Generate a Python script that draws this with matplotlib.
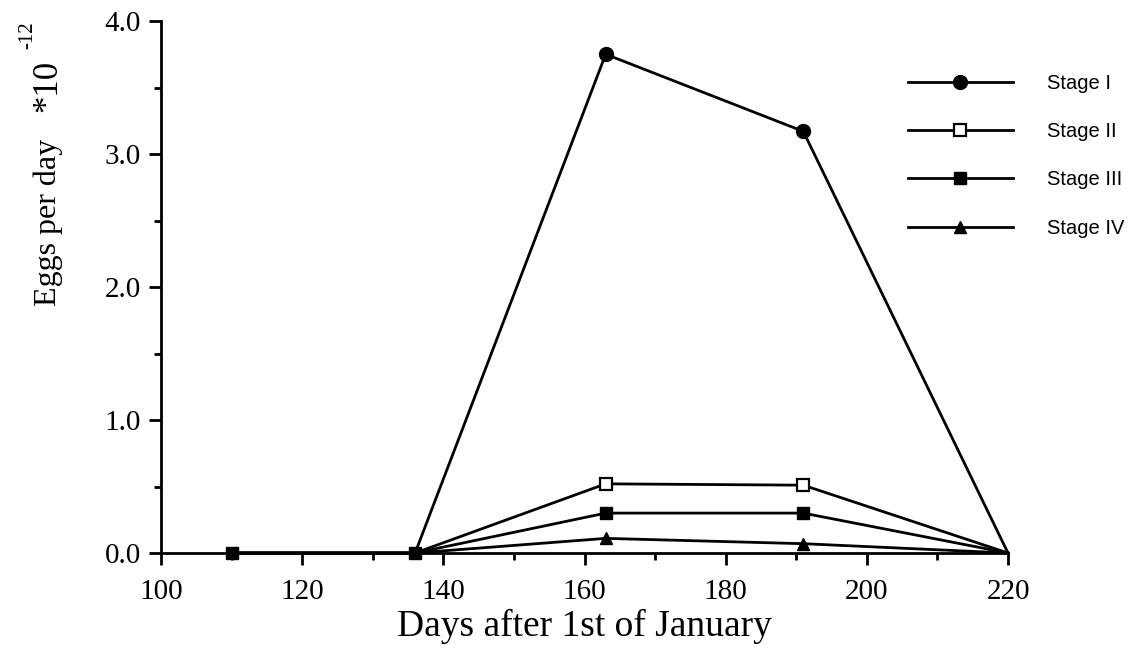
import matplotlib
matplotlib.use("Agg")
import matplotlib.pyplot as plt
from matplotlib.lines import Line2D
from matplotlib.ticker import MultipleLocator

# Sampling days (days after 1st of January)
days = [110, 136, 163, 191, 220]

# Egg production (x 10^12 eggs per day) by developmental stage
stage_i = [0.0, 0.0, 3.75, 3.17, 0.0]
stage_ii = [0.0, 0.0, 0.52, 0.51, 0.0]
stage_iii = [0.0, 0.0, 0.30, 0.30, 0.0]
stage_iv = [0.0, 0.0, 0.11, 0.07, 0.0]

labels = ["Stage I", "Stage II", "Stage III", "Stage IV"]

serif = ["Liberation Serif", "DejaVu Serif"]
sans = ["Liberation Sans", "DejaVu Sans"]

fig = plt.figure(figsize=(11.45, 6.57), dpi=100)
ax = fig.add_axes([161 / 1145, 1 - 553 / 657, (1008 - 161) / 1145, (553 - 21) / 657])

lw = 2.0
styles = [
    dict(marker="o", ms=10, mfc="black", mec="black", mew=1.0),
    dict(marker="s", ms=8, mfc="white", mec="black", mew=1.6),
    dict(marker="s", ms=9, mfc="black", mec="black", mew=1.0),
    dict(marker="^", ms=9, mfc="black", mec="black", mew=1.0),
]
series = [stage_i, stage_ii, stage_iii, stage_iv]
marked = [[2, 3], [2, 3], [0, 1, 2, 3], [2, 3]]
zorders = [3, 3, 4, 3]

for vals, st, me, z in zip(series, styles, marked, zorders):
    ax.plot(days, vals, color="black", lw=lw, markevery=me, zorder=z, clip_on=False, **st)

ax.set_xlim(100, 220)
ax.set_ylim(0, 4.0)
ax.spines["top"].set_visible(False)
ax.spines["right"].set_visible(False)
for s in ("left", "bottom"):
    ax.spines[s].set_linewidth(2.0)

ax.xaxis.set_minor_locator(MultipleLocator(10))
ax.yaxis.set_minor_locator(MultipleLocator(0.5))
ax.tick_params(which="major", direction="out", length=8.5, width=2.0)
ax.tick_params(which="minor", direction="out", length=5, width=2.0)
ax.set_xticks([100, 120, 140, 160, 180, 200, 220])
ax.set_xticklabels(["100", "120", "140", "160", "180", "200", "220"], fontfamily=serif, fontsize=21)
ax.set_yticks([0, 1, 2, 3, 4])
ax.set_yticklabels(["0.0", "1.0", "2.0", "3.0", "4.0"], fontfamily=serif, fontsize=21)
ax.tick_params(axis="x", pad=10)
ax.tick_params(axis="y", pad=6)

ax.set_xlabel("Days after 1st of January", fontfamily=serif, fontsize=27, labelpad=3)

# Rotated y-axis title with the scale factor
fig.text(48 / 1145, 1 - 222 / 657, "Eggs per day", rotation=90, ha="center", va="center",
         fontfamily=serif, fontsize=23)
fig.text(48 / 1145, 1 - 86 / 657, "*10", rotation=90, ha="center", va="center",
         fontfamily=serif, fontsize=25)
fig.text(28 / 1145, 1 - 35 / 657, "-12", rotation=90, ha="center", va="center",
         fontfamily=serif, fontsize=15)

handles = [Line2D([], [], color="black", lw=lw, **st) for st in styles]
ax.legend(handles=handles, labels=labels, loc="upper left",
          bbox_to_anchor=(908 / 1145, 1 - 74 / 657), bbox_transform=fig.transFigure,
          frameon=False, borderpad=0, borderaxespad=0,
          handlelength=5.2, handletextpad=1.7, labelspacing=1.45,
          numpoints=1, prop={"family": sans, "size": 14.5})

fig.savefig("out.png", dpi=100, facecolor="white")
